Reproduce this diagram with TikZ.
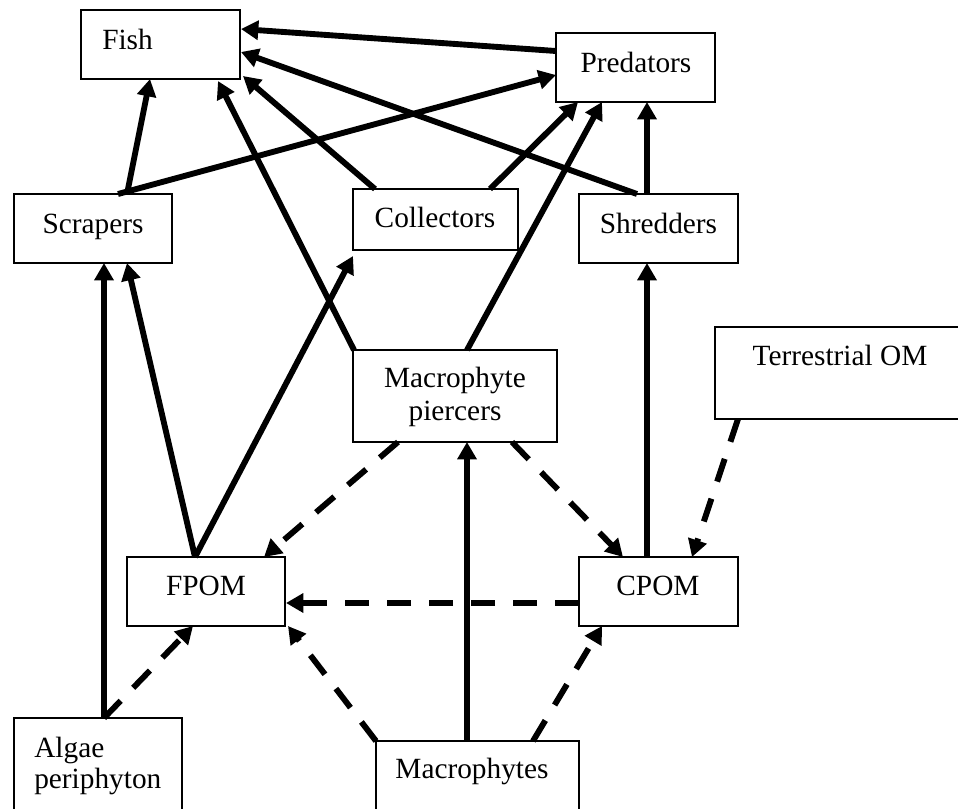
\documentclass[tikz,border=0pt]{standalone}
\usepackage{fontspec}
\setmainfont{Liberation Serif}
\usetikzlibrary{arrows.meta,calc}
\begin{document}
\begin{tikzpicture}[x=0.75pt,y=-0.75pt,
  box/.style={draw,line width=1.1pt,rectangle,inner sep=0pt,outer sep=0pt},
  sz/.style 2 args={minimum width=#1*0.75pt,minimum height=#2*0.75pt},
  lbl/.style={inner sep=0pt,anchor=base,font=\fontsize{22}{26}\selectfont},
  flow/.style={line width=4.4pt,-{Triangle[length=13pt,width=14pt]}},
  fdash/.style={flow,dash pattern=on 18pt off 13.5pt}]
\useasboundingbox (0,0) rectangle (958,808);
\clip (0,0) rectangle (958,808);
% boxes
\node[box,sz={159}{69}] (fish) at (160.5,44.5) {};
\node[box,sz={159}{69}] (pred) at (635.5,67.5) {};
\node[box,sz={158}{69}] (scr) at (93,228.5) {};
\node[box,sz={165}{61}] (col) at (435.5,219.5) {};
\node[box,sz={159}{69}] (shr) at (658.5,228.5) {};
\node[box,sz={204}{92}] (mp) at (455,396) {};
\node[box,sz={285}{92}] (tom) at (857.5,373) {};
\node[box,sz={158}{69}] (fpom) at (206,591.5) {};
\node[box,sz={159}{69}] (cpom) at (658.5,591.5) {};
\node[box,sz={168}{112}] (alg) at (98,774) {};
\node[box,sz={203}{109}] (mac) at (477.5,795.5) {};
% labels
\node[lbl,anchor=base west] (tfish) at (102,49) {Fish};
\node[lbl] (tpred) at (636,72) {Predators};
\node[lbl] (tscr) at (93,233) {Scrapers};
\node[lbl] (tcol) at (435,227) {Collectors};
\node[lbl] (tshr) at (658.5,233) {Shredders};
\node[lbl] (tmp1) at (455,387) {Macrophyte};
\node[lbl] (tmp2) at (455,420) {piercers};
\node[lbl] (ttom) at (840,365) {Terrestrial OM};
\node[lbl] (tfpom) at (206,595) {FPOM};
\node[lbl] (tcpom) at (658,595) {CPOM};
\node[lbl,anchor=base west] (talg1) at (34,757) {Algae};
\node[lbl,anchor=base west] (talg2) at (34,788) {periphyton};
\node[lbl] (tmac) at (472,778) {Macrophytes};
% solid arrows
\draw[flow] ($(pred.west)+(0,-16.5)$) -- ($(fish.east)+(1,-15.5)$);
\draw[flow] ($(shr.north)+(-21.5,0)$) -- ($(fish.east)+(1,7.5)$);
\draw[flow] ($(col.north west)+(22,0)$) -- ($(fish.south east)+(3,-3)$);
\draw[flow] ($(mp.north west)+(1,0)$) -- ($(fish.south east)+(-22,2)$);
\draw[flow] ($(scr.north)+(34,0)$) -- ($(fish.south)+(-10.5,0)$);
\draw[flow] ($(scr.north)+(25,0)$) -- ($(pred.west)+(0,7.5)$);
\draw[flow] ($(col.north east)+(-28,0)$) -- ($(pred.south west)+(22,0)$);
\draw[flow] ($(mp.north)+(12,0)$) -- ($(pred.south)+(-33.5,0)$);
\draw[flow] ($(shr.north)+(-11.5,0)$) -- ($(pred.south)+(11.5,0)$);
\draw[flow] ($(fpom.north)+(-11,0)$) -- ($(scr.south)+(34,0)$);
\draw[flow] ($(alg.north west)+(90,0)$) -- ($(scr.south)+(11,0)$);
\draw[flow] ($(fpom.north)+(-11,0)$) -- ($(col.south west)+(0,6)$);
\draw[flow] ($(cpom.north)+(-11.5,0)$) -- ($(shr.south)+(-11.5,0)$);
\draw[flow] ($(mac.north)+(-10.5,0)$) -- ($(mp.south)+(12,0)$);
% dashed arrows
\draw[fdash] ($(mp.south west)+(45,0)$) -- ($(fpom.north east)+(-21,0)$);
\draw[fdash] ($(mp.south east)+(-45,0)$) -- ($(cpom.north west)+(44,0)$);
\draw[fdash] ($(tom.south west)+(23,0)$) -- ($(cpom.north east)+(-46,0)$);
\draw[fdash] ($(cpom.west)+(0,11.5)$) -- ($(fpom.east)+(1,11.5)$);
\draw[fdash] ($(alg.north west)+(90,0)$) -- ($(fpom.south)+(-13,0)$);
\draw[fdash] (mac.north west) -- ($(fpom.south east)+(3,0)$);
\draw[fdash] ($(mac.north east)+(-46,0)$) -- ($(cpom.south west)+(23,0)$);
\end{tikzpicture}
\end{document}
